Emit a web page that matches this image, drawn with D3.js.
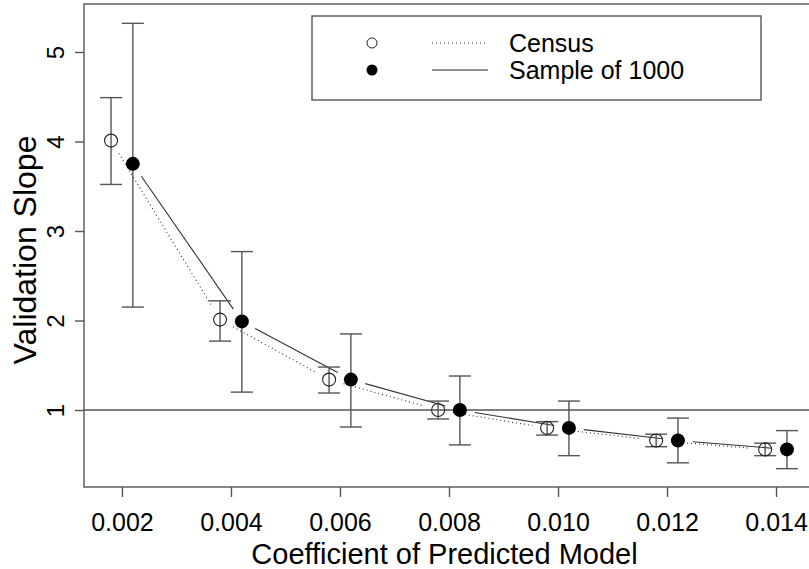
<!DOCTYPE html>
<html>
<head>
<meta charset="utf-8">
<script src="https://cdn.jsdelivr.net/npm/d3@7"></script>
<style>
  body { margin: 0; background: #fff; }
  svg { display: block; font-family: "Liberation Sans", Arial, sans-serif; }
</style>
</head>
<body>
<svg width="809" height="569"></svg>
<script>
// census points (open circles) sit just left of each coefficient, sample points just right
var censusX  = [0.0018, 0.0038, 0.0058, 0.0078, 0.0098, 0.0118, 0.0138];
var censusY  = [4.01, 2.01, 1.34, 1.00, 0.80, 0.66, 0.56];
var censusLo = [3.52, 1.77, 1.19, 0.90, 0.72, 0.59, 0.49];
var censusHi = [4.49, 2.22, 1.48, 1.10, 0.87, 0.73, 0.63];

var sampleX  = [0.0022, 0.0042, 0.0062, 0.0082, 0.0102, 0.0122, 0.0142];
var sampleY  = [3.75, 1.99, 1.34, 1.00, 0.80, 0.66, 0.56];
var sampleLo = [2.15, 1.20, 0.81, 0.61, 0.49, 0.41, 0.345];
var sampleHi = [5.32, 2.77, 1.85, 1.38, 1.10, 0.91, 0.77];

var xTicks = [0.002, 0.004, 0.006, 0.008, 0.010, 0.012, 0.014];
var yTicks = [1, 2, 3, 4, 5];
var seriesNames = ["Census", "Sample of 1000"];

var svg = d3.select("svg");
var plotLeft = 84, plotRight = 814, plotTop = 4, plotBottom = 487;
var ink = "#555";

svg.append("rect").attr("width", 809).attr("height", 569).attr("fill", "#fff");

var x = d3.scaleLinear().domain([0.001304, 0.014696]).range([plotLeft, plotRight]);
var y = d3.scaleLinear().domain([0.14, 5.536]).range([plotBottom, plotTop]);

// axes
var xAxis = svg.append("g")
    .attr("transform", "translate(0," + plotBottom + ")")
    .call(d3.axisBottom(x).tickValues(xTicks).tickSize(10).tickPadding(16)
        .tickFormat(d3.format(".3f")));
xAxis.select(".domain").remove();
xAxis.selectAll("line").attr("stroke", ink).attr("stroke-width", 1.4);
xAxis.selectAll("text").attr("font-size", 25).attr("fill", "#000")
    .style("font-family", "Liberation Sans, Arial, sans-serif");

var yAxis = svg.append("g")
    .attr("transform", "translate(" + plotLeft + ",0)")
    .call(d3.axisLeft(y).tickValues(yTicks).tickSize(9).tickFormat(d3.format("d")));
yAxis.select(".domain").remove();
yAxis.selectAll("line").attr("stroke", ink).attr("stroke-width", 1.4);
yAxis.selectAll("text")
    .attr("x", 0).attr("dy", 0)
    .attr("text-anchor", "middle")
    .attr("transform", "translate(-20.5,0) rotate(-90)")
    .attr("font-size", 24).attr("fill", "#000")
    .style("font-family", "Liberation Sans, Arial, sans-serif");

// plot frame (right side runs off the page)
svg.append("rect")
    .attr("x", plotLeft).attr("y", plotTop)
    .attr("width", plotRight - plotLeft).attr("height", plotBottom - plotTop)
    .attr("fill", "none").attr("stroke", ink).attr("stroke-width", 1.4);

// reference line at slope 1
svg.append("line")
    .attr("x1", plotLeft).attr("x2", plotRight)
    .attr("y1", y(1)).attr("y2", y(1))
    .attr("stroke", ink).attr("stroke-width", 1.4);

// lines between points, with a gap around each point
function gappedSegments(xs, ys, gap) {
    var segs = [];
    for (var i = 0; i < xs.length - 1; i++) {
        var x0 = x(xs[i]), y0 = y(ys[i]), x1 = x(xs[i + 1]), y1 = y(ys[i + 1]);
        var dx = x1 - x0, dy = y1 - y0, len = Math.sqrt(dx * dx + dy * dy);
        if (len <= 2 * gap) continue;
        var ux = dx / len, uy = dy / len;
        segs.push([x0 + ux * gap, y0 + uy * gap, x1 - ux * gap, y1 - uy * gap]);
    }
    return segs;
}

function drawSegments(segs, dash) {
    svg.append("g").selectAll("line").data(segs).enter().append("line")
        .attr("x1", function(d) { return d[0]; })
        .attr("y1", function(d) { return d[1]; })
        .attr("x2", function(d) { return d[2]; })
        .attr("y2", function(d) { return d[3]; })
        .attr("stroke", "#333").attr("stroke-width", 1.1)
        .attr("stroke-dasharray", dash);
}

drawSegments(gappedSegments(censusX, censusY, 15), "1,3");
drawSegments(gappedSegments(sampleX, sampleY, 15), null);

// error bars
function drawErrorBars(xs, lo, hi) {
    var g = svg.append("g").attr("stroke", ink).attr("stroke-width", 1.4);
    xs.forEach(function(v, i) {
        var cx = x(v);
        g.append("line").attr("x1", cx).attr("x2", cx).attr("y1", y(lo[i])).attr("y2", y(hi[i]));
        g.append("line").attr("x1", cx - 11).attr("x2", cx + 11).attr("y1", y(lo[i])).attr("y2", y(lo[i]));
        g.append("line").attr("x1", cx - 11).attr("x2", cx + 11).attr("y1", y(hi[i])).attr("y2", y(hi[i]));
    });
}
drawErrorBars(censusX, censusLo, censusHi);
drawErrorBars(sampleX, sampleLo, sampleHi);

// points
svg.append("g").selectAll("circle").data(censusX).enter().append("circle")
    .attr("cx", function(d) { return x(d); })
    .attr("cy", function(d, i) { return y(censusY[i]); })
    .attr("r", 6.5)
    .attr("fill", "none").attr("stroke", "#222").attr("stroke-width", 1.1);

svg.append("g").selectAll("circle").data(sampleX).enter().append("circle")
    .attr("cx", function(d) { return x(d); })
    .attr("cy", function(d, i) { return y(sampleY[i]); })
    .attr("r", 7)
    .attr("fill", "#000");

// axis titles
svg.append("text")
    .attr("x", (plotLeft + 805) / 2).attr("y", 564)
    .attr("text-anchor", "middle").attr("font-size", 29)
    .text("Coefficient of Predicted Model");

svg.append("text")
    .attr("transform", "translate(36,250) rotate(-90)")
    .attr("text-anchor", "middle").attr("font-size", 32)
    .text("Validation Slope");

// legend
var legend = svg.append("g");
legend.append("rect")
    .attr("x", 312).attr("y", 16).attr("width", 449).attr("height", 84)
    .attr("fill", "#fff").attr("stroke", ink).attr("stroke-width", 1.4);

var rows = [43, 70];
legend.append("circle").attr("cx", 372).attr("cy", rows[0]).attr("r", 5)
    .attr("fill", "none").attr("stroke", "#222").attr("stroke-width", 1);
legend.append("circle").attr("cx", 372).attr("cy", rows[1]).attr("r", 5.5)
    .attr("fill", "#000");
legend.append("line").attr("x1", 432).attr("x2", 488).attr("y1", rows[0]).attr("y2", rows[0])
    .attr("stroke", "#333").attr("stroke-width", 1.1).attr("stroke-dasharray", "1,3");
legend.append("line").attr("x1", 432).attr("x2", 488).attr("y1", rows[1]).attr("y2", rows[1])
    .attr("stroke", "#222").attr("stroke-width", 1.2);
legend.selectAll("text.lab").data(seriesNames).enter().append("text")
    .attr("class", "lab")
    .attr("x", 509).attr("y", function(d, i) { return rows[i]; })
    .attr("dy", "0.35em").attr("font-size", 25)
    .text(function(d) { return d; });
</script>
</body>
</html>
